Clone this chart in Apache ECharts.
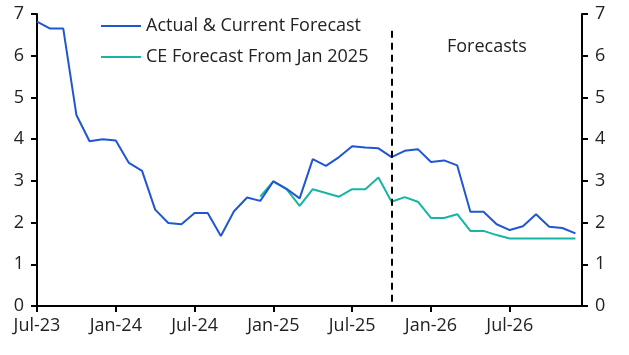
<!DOCTYPE html>
<html><head><meta charset="utf-8">
<script src="https://cdn.jsdelivr.net/npm/echarts@6/dist/echarts.min.js"></script>
<style>html,body{margin:0;padding:0;background:#fff}#c{width:629px;height:355px}</style>
</head><body><div id="c"></div>
<script>
// Monthly, Jul-23 .. Dec-26
const months = ["Jul-23","Aug-23","Sep-23","Oct-23","Nov-23","Dec-23","Jan-24","Feb-24","Mar-24","Apr-24","May-24","Jun-24",
"Jul-24","Aug-24","Sep-24","Oct-24","Nov-24","Dec-24","Jan-25","Feb-25","Mar-25","Apr-25","May-25","Jun-25",
"Jul-25","Aug-25","Sep-25","Oct-25","Nov-25","Dec-25","Jan-26","Feb-26","Mar-26","Apr-26","May-26","Jun-26",
"Jul-26","Aug-26","Sep-26","Oct-26","Nov-26","Dec-26"];
const tickLabels = ["Jul-23","Jan-24","Jul-24","Jan-25","Jul-25","Jan-26","Jul-26"];
const actualForecast = [6.82,6.65,6.65,4.58,3.95,4.00,3.97,3.43,3.24,2.31,1.99,1.96,
2.23,2.23,1.68,2.27,2.60,2.52,2.99,2.81,2.58,3.52,3.36,3.57,
3.83,3.80,3.78,3.57,3.72,3.76,3.45,3.49,3.37,2.26,2.26,1.96,
1.82,1.91,2.20,1.90,1.87,1.74];
const ceForecast = [null,null,null,null,null,null,null,null,null,null,null,null,
null,null,null,null,null,2.62,2.99,2.80,2.40,2.80,2.71,2.62,
2.80,2.80,3.08,2.50,2.61,2.50,2.11,2.11,2.20,1.80,1.80,1.70,
1.62,1.62,1.62,1.62,1.62,1.62];
const forecastStart = "Oct-25";
const seriesNames = ["Actual & Current Forecast","CE Forecast From Jan 2025"];

const FONT = "'Open Sans', sans-serif";
const FS = 18;
const toPairs = arr => arr.map((v,i)=> v==null ? null : [i,v]).filter(p=>p);
const chart = echarts.init(document.getElementById('c'), null, {renderer:'canvas'});
const axisCommon = {
  type:'value', min:0, max:7, interval:1,
  axisLine:{show:true, lineStyle:{color:'#000', width:2}},
  axisTick:{show:true, inside:false, length:6, lineStyle:{color:'#000', width:2}},
  splitLine:{show:false},
  axisLabel:{color:'#222', fontSize:FS, fontFamily:FONT, margin:13}
};
chart.setOption({
  animation:false,
  grid:{left:37, right:47, top:14, bottom:49, containLabel:false},
  legend:{
    orient:'vertical', left:96, top:12, itemGap:13, itemWidth:40, itemHeight:2,
    icon:'rect',
    textStyle:{color:'#222', fontSize:FS, fontFamily:FONT},
    data:seriesNames
  },
  xAxis:{
    type:'value', min:0, max:41.5, interval:6,
    axisLine:{show:true, onZero:false, lineStyle:{color:'#000', width:2}},
    axisTick:{show:true, length:6, lineStyle:{color:'#000', width:2}},
    splitLine:{show:false},
    axisLabel:{color:'#222', fontSize:FS, fontFamily:FONT, margin:11,
      showMaxLabel:false,
      formatter:v => (Number.isInteger(v) && v%6===0) ? tickLabels[v/6] : ''}
  },
  yAxis:[
    Object.assign({}, axisCommon, {position:'left'}),
    Object.assign({}, axisCommon, {position:'right'})
  ],
  series:[
    {name:seriesNames[0], type:'line', data:toPairs(actualForecast), symbol:'none',
     lineStyle:{color:'#2156d1', width:2}, itemStyle:{color:'#2156d1'}, z:3,
     markLine:{silent:true, symbol:'none', label:{show:false},
       lineStyle:{color:'#000', width:2, type:[7,5]},
       data:[[{coord:[months.indexOf(forecastStart), 6.6]},{coord:[months.indexOf(forecastStart), 0]}]]}},
    {name:seriesNames[1], type:'line', data:toPairs(ceForecast), symbol:'none',
     lineStyle:{color:'#16b5a6', width:2}, itemStyle:{color:'#16b5a6'}, z:2}
  ],
  graphic:[{type:'text', left:447, top:38, style:{text:'Forecasts', fill:'#222', font:FS+"px "+FONT}}]
});
</script></body></html>
